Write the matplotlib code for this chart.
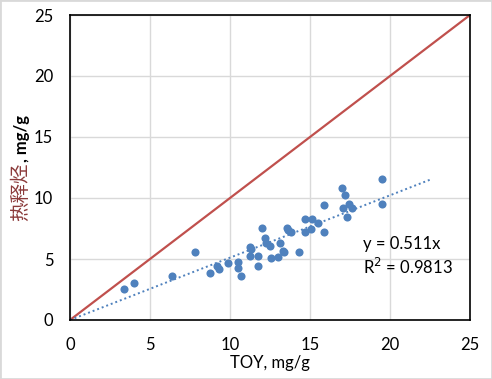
import matplotlib.pyplot as plt
from matplotlib.patches import Rectangle

# TOY (mg/g) vs thermal hydrocarbons (mg/g)
toy = [3.40, 3.97, 6.35, 7.79, 8.73, 9.21, 9.34, 9.86, 10.53, 10.49, 10.67,
       11.28, 11.34, 11.28, 11.72, 11.72, 11.99, 12.16, 12.26, 12.51, 12.57,
       12.99, 13.14, 13.30, 13.36, 13.55, 13.62, 13.83, 14.31, 14.70, 14.70,
       15.08, 15.12, 15.50, 15.87, 15.87, 17.00, 17.19, 17.06, 17.44, 17.65,
       17.31, 19.47, 19.53]
hc = [2.52, 3.01, 3.58, 5.55, 3.83, 4.43, 4.16, 4.65, 4.73, 4.24, 3.58,
      6.01, 5.80, 5.22, 5.22, 4.40, 7.52, 6.70, 6.29, 6.07, 5.11,
      5.19, 6.29, 5.66, 5.57, 7.57, 7.38, 7.24, 5.55, 8.28, 7.24,
      7.43, 8.28, 7.98, 9.40, 7.19, 10.80, 10.27, 9.20, 9.48, 9.20,
      8.47, 11.53, 9.48]

slope = 0.511
r2 = 0.9813
trend_x = [0, 22.5]
ref_x = [0, 25]
ticks = [0, 5, 10, 15, 20, 25]

plt.rcParams['font.family'] = ['Lato', 'Noto Sans CJK SC', 'DejaVu Sans']

fig = plt.figure(figsize=(4.92, 3.79), dpi=100)
ax = fig.add_axes([70 / 492, 59 / 379, 400 / 492, 305 / 379])

ax.plot(ref_x, ref_x, color='#C0504D', lw=1.6, zorder=2)
ax.plot(trend_x, [slope * v for v in trend_x], color='#4F81BD', lw=1.4,
        linestyle=(0, (1, 1.5)), zorder=2)
ax.scatter(toy, hc, s=34, color='#4F81BD', zorder=3, linewidths=0)

ax.set_xlim(0, 25)
ax.set_ylim(0, 25)
ax.set_xticks(ticks)
ax.set_yticks(ticks)
ax.grid(True, color='#D9D9D9', lw=1)
ax.set_axisbelow(True)
ax.tick_params(length=0, labelsize=12, pad=12)
for s in ax.spines.values():
    s.set_color('black')
    s.set_linewidth(1.2)

ax.set_xlabel('TOY, mg/g', fontsize=12, labelpad=2)

ax.text(18.3, 6.25, f'y = {slope}x', fontsize=12, va='center', ha='left')
ax.text(18.3, 4.35, f'R$^2$ = {r2}', fontsize=12, va='center', ha='left')

# y label: Chinese part in dark red, unit part in bold black
t1 = fig.text(21 / 492, 1 - 221 / 379, '热释烃', rotation=90, ha='center',
              va='bottom', fontsize=14, color='#8B3A3A',
              family=['Noto Sans CJK SC', 'DejaVu Sans'])
fig.canvas.draw()
bb = t1.get_window_extent()
fig.text(22 / 492, bb.y1 / fig.bbox.height, ', mg/g', rotation=90,
         ha='center', va='bottom', fontsize=12, fontweight='bold',
         color='black')

fig.patches.append(Rectangle((0, 0), 1, 1, transform=fig.transFigure,
                             fill=False, edgecolor='#D9D9D9', lw=2))

fig.savefig('out.png', dpi=100)
